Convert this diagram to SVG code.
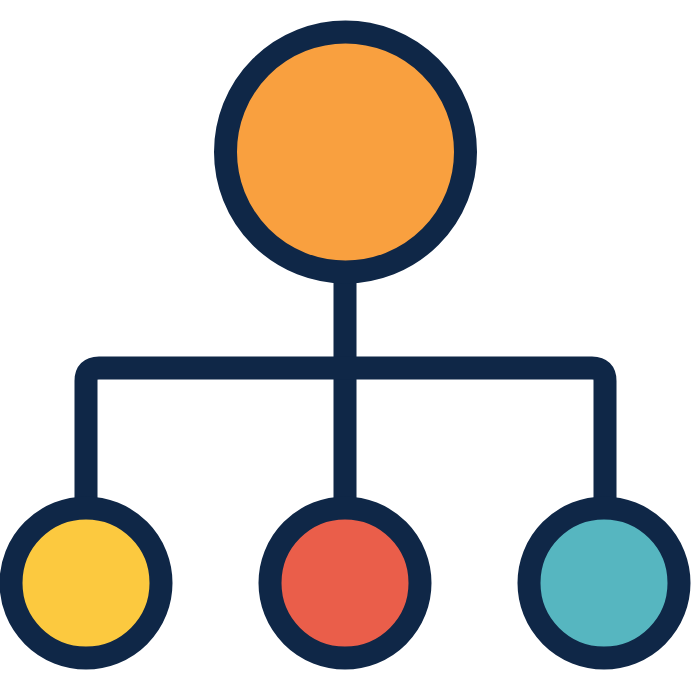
<svg xmlns="http://www.w3.org/2000/svg" width="691" height="691" viewBox="0 0 691 691">
<style>
.node{stroke:#0f2747;stroke-width:23}
.conn{fill:none;stroke:#0f2747;stroke-width:23;stroke-linejoin:round}
</style>
<rect width="691" height="691" fill="#ffffff"/>
<g id="connectors">
<path class="conn" d="M345 270 V510"/>
<path class="conn" d="M86 510 V381 Q86 368 99 368 H592 Q605 368 605 381 V510"/>
</g>
<g id="root"><circle class="node" cx="345.5" cy="152" r="120" fill="#f9a03f"/></g>
<g id="child-left"><circle class="node" cx="86" cy="583" r="75" fill="#fcc93f"/></g>
<g id="child-middle"><circle class="node" cx="345" cy="583" r="75" fill="#ea5e4a"/></g>
<g id="child-right"><circle class="node" cx="604" cy="583" r="75" fill="#56b6c0"/></g>
</svg>
